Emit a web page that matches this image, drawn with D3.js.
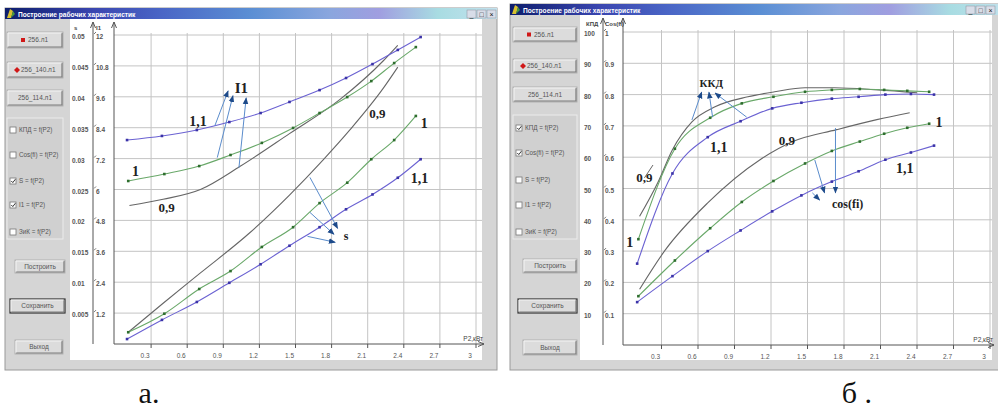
<!DOCTYPE html>
<html>
<head>
<meta charset="utf-8">
<script src="https://cdn.jsdelivr.net/npm/d3@7"></script>
<style>
  body { margin: 0; background: #fff; }
  svg { display: block; }
</style>
</head>
<body>
<svg width="998" height="410"></svg>
<script>
// ---- data ----
const p2Ticks = ['0.3', '0.6', '0.9', '1.2', '1.5', '1.8', '2.1', '2.4', '2.7', '3'];
const sTicks = ['0.005', '0.01', '0.015', '0.02', '0.025', '0.03', '0.035', '0.04', '0.045', '0.05'];
const i1Ticks = ['1.2', '2.4', '3.6', '4.8', '6', '7.2', '8.4', '9.6', '10.8', '12'];
const kpdTicks = ['10', '20', '30', '40', '50', '60', '70', '80', '90', '100'];
const cosTicks = ['0.1', '0.2', '0.3', '0.4', '0.5', '0.6', '0.7', '0.8', '0.9', '1'];

// measured points, U = 1.1 and U = 1 (markers at same P2 on every curve)
const p2_11 = [0.10, 0.39, 0.68, 0.95, 1.21, 1.45, 1.70, 1.92, 2.14, 2.35, 2.54];
const p2_10 = [0.11, 0.41, 0.70, 0.96, 1.22, 1.48, 1.70, 1.93, 2.13, 2.32, 2.50];

const s_11 = [0.0008, 0.0039, 0.0068, 0.0099, 0.0129, 0.0159, 0.0189, 0.0218, 0.0242, 0.0269, 0.0299];
const s_10 = [0.0019, 0.0049, 0.0089, 0.0118, 0.0157, 0.0189, 0.0228, 0.0261, 0.0299, 0.0330, 0.0369];
const p2_s09 = [0.11, 0.40, 0.71, 1.12, 1.45, 1.73, 1.95, 2.23, 2.35];
const s_09 = [0.0019, 0.0066, 0.0115, 0.0180, 0.0241, 0.0298, 0.0346, 0.0414, 0.0448];

const i1_11 = [7.92, 8.08, 8.31, 8.62, 8.97, 9.40, 9.86, 10.33, 10.87, 11.42, 11.92];
const i1_10 = [6.33, 6.60, 6.91, 7.34, 7.81, 8.39, 8.97, 9.59, 10.21, 10.91, 11.53];
const p2_i09 = [0.12, 0.40, 0.71, 1.04, 1.45, 1.87, 2.23, 2.35];
const i1_09 = [5.38, 5.62, 6.00, 6.90, 8.17, 9.50, 11.00, 11.60];

const kpd_11 = [26.0, 54.8, 66.4, 71.5, 75.6, 77.4, 78.7, 79.3, 80.0, 80.2, 80.0];
const kpd_10 = [33.8, 62.7, 72.6, 77.2, 79.3, 80.9, 81.5, 81.8, 81.5, 81.2, 80.9];
const p2_k09 = [0.12, 0.27, 0.39, 0.55, 0.74, 1.01, 1.23, 1.48, 1.72, 2.08, 2.40];
const kpd_09 = [41.1, 51.9, 62.4, 71.3, 76.1, 79.3, 80.9, 82.2, 82.2, 81.5, 80.6];

const cos_11 = [0.137, 0.22, 0.30, 0.366, 0.427, 0.478, 0.522, 0.555, 0.592, 0.615, 0.637];
const cos_10 = [0.156, 0.27, 0.373, 0.457, 0.524, 0.58, 0.62, 0.65, 0.675, 0.694, 0.707];
const p2_c09 = [0.12, 0.33, 0.68, 1.11, 1.38, 1.74, 2.07, 2.34];
const cos_09 = [0.178, 0.303, 0.454, 0.592, 0.65, 0.688, 0.72, 0.742];

// hand-written notes on the charts (in P2 / I1 or P2 / КПД units)
const leftNotes = [
  { t: 'I1', p: 1.05, v: 9.95, fs: 15 },
  { t: '1,1', p: 0.69, v: 8.67, fs: 14 },
  { t: '1', p: 0.17, v: 6.70, fs: 14 },
  { t: '0,9', p: 0.43, v: 5.30, fs: 13 },
  { t: '0,9', p: 2.18, v: 8.94, fs: 13 },
  { t: '1', p: 2.57, v: 8.59, fs: 14 },
  { t: '1,1', p: 2.53, v: 6.43, fs: 14 },
  { t: 's', p: 1.92, v: 4.22, fs: 12 }
];
const leftArrows = [
  [0.83, 8.48, 0.94, 9.83], [0.85, 7.24, 0.98, 9.64], [1.03, 6.85, 1.09, 9.56],
  [1.62, 6.47, 1.85, 4.49], [1.62, 5.11, 1.82, 4.26], [1.60, 4.18, 1.83, 3.95]
];
const rightNotes = [
  { t: 'ККД', p: 0.71, v: 83.7, fs: 11 },
  { t: '0,9', p: 0.16, v: 53.4, fs: 13 },
  { t: '1,1', p: 0.77, v: 63.3, fs: 14 },
  { t: '1', p: 0.04, v: 32.9, fs: 14 },
  { t: '0,9', p: 1.33, v: 65.2, fs: 13 },
  { t: '1', p: 2.58, v: 71.2, fs: 14 },
  { t: '1,1', p: 2.30, v: 56.5, fs: 14 },
  { t: 'cos(fi)', p: 1.83, v: 45.0, fs: 12 }
];
const rightArrows = [
  [0.55, 71.9, 0.63, 80.8], [0.72, 72.8, 0.69, 80.8], [1.00, 72.8, 0.74, 80.5],
  [1.56, 59.1, 1.64, 48.6], [1.73, 69.3, 1.73, 48.6], [1.54, 48.6, 1.60, 46.3]
];
const rightTicks = [[0.16, 53.4, 0.23, 57.5]];

const fileButtons = ['256.л1', '256_140.л1', '256_114.л1'];
const checkLabels = ['КПД = f(P2)', 'Cos(fi) = f(P2)', 'S = f(P2)', 'I1 = f(P2)', 'ЗиК = f(P2)'];
const commandButtons = ['Построить', 'Сохранить', 'Выход'];

const BLUE = '#6b62d2', BLUE_M = '#3b33a8';
const GREEN = '#69a869', GREEN_M = '#2e6e2e';
const GREY = '#666';
const SANS = '"Liberation Sans", Arial, sans-serif';
const SERIF = '"Liberation Serif", "Times New Roman", serif';

const svg = d3.select('svg');
const defs = svg.append('defs');

const grad = defs.append('linearGradient').attr('id', 'title');
[[0, '#0d1d6c'], [0.18, '#3a46b0'], [0.32, '#4a66c6'], [0.5, '#5b8fd4'],
 [0.66, '#8aa6de'], [0.76, '#a09ee0'], [0.88, '#a8dce2'], [1, '#c4e2ee']]
  .forEach(([o, c]) => grad.append('stop').attr('offset', o).attr('stop-color', c));

defs.append('marker')
  .attr('id', 'head')
  .attr('viewBox', '0 0 10 10')
  .attr('refX', 9).attr('refY', 5)
  .attr('markerWidth', 7).attr('markerHeight', 7)
  .attr('markerUnits', 'userSpaceOnUse')
  .attr('orient', 'auto')
  .append('path').attr('d', 'M0,1 L10,5 L0,9 Z').attr('fill', '#1d4a8a');

// ---- window chrome ----
function drawWindow(w) {
  const g = svg.append('g');
  g.append('rect')
    .attr('x', w.x0).attr('y', w.y0)
    .attr('width', w.x1 - w.x0).attr('height', w.y1 - w.y0)
    .attr('fill', '#d5d5d5').attr('stroke', '#9a9a9a').attr('stroke-width', 1);

  g.append('rect')
    .attr('x', w.x0).attr('y', w.y0)
    .attr('width', w.x1 - w.x0).attr('height', 11)
    .attr('fill', 'url(#title)');

  // icon
  g.append('path')
    .attr('d', `M${w.x0 + 2},${w.y0 + 10} L${w.x0 + 5},${w.y0 + 1} L${w.x0 + 8},${w.y0 + 3} L${w.x0 + 6},${w.y0 + 10} Z`)
    .attr('fill', '#d8c030');
  g.append('path')
    .attr('d', `M${w.x0 + 6},${w.y0 + 10} L${w.x0 + 8},${w.y0 + 3} L${w.x0 + 10},${w.y0 + 6} Z`)
    .attr('fill', '#4c9a3c');

  g.append('text')
    .attr('x', w.x0 + 13).attr('y', w.y0 + 8.5)
    .attr('font-family', SANS).attr('font-size', 6.6).attr('font-weight', 'bold')
    .attr('fill', '#fff')
    .text('Построение рабочих характеристик');

  // caption buttons
  ['_', '□', '×'].forEach((c, i) => {
    const bx = w.capX + i * 10;
    g.append('rect').attr('x', bx).attr('y', w.y0 + 2).attr('width', 9).attr('height', 8)
      .attr('fill', '#d8dde8').attr('stroke', '#8a8f9a').attr('stroke-width', 0.5);
    g.append('text').attr('x', bx + 4.5).attr('y', w.y0 + 8.5).attr('text-anchor', 'middle')
      .attr('font-family', SANS).attr('font-size', 7).attr('fill', '#111').text(c);
  });

  // white drawing area
  const [wx0, wy0, wx1, wy1] = w.white;
  g.append('rect').attr('x', wx0).attr('y', wy0).attr('width', wx1 - wx0).attr('height', wy1 - wy0)
    .attr('fill', '#fff');

  const button = (x0, y0, x1, y1, def) => {
    g.append('rect').attr('x', x0).attr('y', y0).attr('width', x1 - x0).attr('height', y1 - y0)
      .attr('fill', '#dcdcdc').attr('stroke', def ? '#333' : '#a8a8a8').attr('stroke-width', def ? 1.2 : 0.8);
    g.append('path').attr('d', `M${x0 + 1},${y1 - 1} H${x1 - 1} V${y0 + 1}`)
      .attr('fill', 'none').attr('stroke', '#7a7a7a').attr('stroke-width', 1.2);
    g.append('path').attr('d', `M${x0 + 1},${y1 - 1.5} V${y0 + 1} H${x1 - 1.5}`)
      .attr('fill', 'none').attr('stroke', '#f4f4f4').attr('stroke-width', 1);
  };

  fileButtons.forEach((t, i) => {
    const [y0, y1] = w.btnY[i];
    button(w.btnX[0], y0, w.btnX[1], y1, false);
    const cy = (y0 + y1) / 2;
    if (i === 0) {
      g.append('rect').attr('x', w.btnX[0] + 14).attr('y', cy - 2).attr('width', 4).attr('height', 4).attr('fill', '#d01818');
    } else if (i === 1) {
      g.append('path').attr('d', `M${w.btnX[0] + 10},${cy - 3} l3,3 l-3,3 l-3,-3 Z`).attr('fill', '#d01818');
    }
    g.append('text')
      .attr('x', i === 0 ? w.btnX[0] + 21 : i === 1 ? w.btnX[0] + 14 : (w.btnX[0] + w.btnX[1]) / 2)
      .attr('y', cy + 2.4)
      .attr('text-anchor', i === 2 ? 'middle' : 'start')
      .attr('font-family', SANS).attr('font-size', 6.5).attr('fill', '#555')
      .text(t);
  });

  // group box with check boxes
  const [gx0, gy0, gx1, gy1] = w.grp;
  g.append('rect').attr('x', gx0).attr('y', gy0).attr('width', gx1 - gx0).attr('height', gy1 - gy0)
    .attr('fill', '#d0d0d0').attr('stroke', '#ececec').attr('stroke-width', 1);
  checkLabels.forEach((t, i) => {
    const cy = w.chkY[i];
    g.append('rect').attr('x', gx0 + 3).attr('y', cy - 3).attr('width', 6).attr('height', 6)
      .attr('fill', '#fff').attr('stroke', '#777').attr('stroke-width', 0.8);
    if (w.checked[i]) {
      g.append('path').attr('d', `M${gx0 + 4.3},${cy} l1.5,1.6 l2.6,-3.4`)
        .attr('fill', 'none').attr('stroke', '#333').attr('stroke-width', 1);
    }
    g.append('text').attr('x', gx0 + 12).attr('y', cy + 2.3)
      .attr('font-family', SANS).attr('font-size', 6.3).attr('fill', '#555').text(t);
  });

  commandButtons.forEach((t, i) => {
    const [x0, x1, y0, y1] = w.cmd[i];
    button(x0, y0, x1, y1, i === 1);
    g.append('text').attr('x', (x0 + x1) / 2).attr('y', (y0 + y1) / 2 + 2.3)
      .attr('text-anchor', 'middle')
      .attr('font-family', SANS).attr('font-size', 6.5).attr('fill', '#555').text(t);
  });

  return g;
}

// ---- chart ----
// column "a" is the outer label column, column "b" the inner one
function drawChart(c) {
  const g = svg.append('g');
  const x = d3.scaleLinear().domain([0, 3]).range(c.xRange);
  const yA = d3.scaleLinear().domain([0, c.aMax]).range(c.yRange);
  const yB = d3.scaleLinear().domain([0, c.bMax]).range(c.yRange);
  const yN = c.noteAxis === 'a' ? yA : yB;
  const yTop = c.yRange[1];
  const yBot = c.yRange[0];

  // grid
  const gridVals = c.bLabels.map(Number);
  g.append('g').selectAll('line').data(gridVals).join('line')
    .attr('x1', c.ax2).attr('x2', c.gridRight)
    .attr('y1', d => yB(d)).attr('y2', d => yB(d))
    .attr('stroke', '#c4c4c4').attr('stroke-width', 1);
  const xVals = p2Ticks.map(Number);
  g.append('g').selectAll('line').data(xVals).join('line')
    .attr('x1', d => x(d)).attr('x2', d => x(d))
    .attr('y1', yTop - 2).attr('y2', yBot)
    .attr('stroke', '#c4c4c4').attr('stroke-width', 1);

  // axes
  const axis = g.append('g').attr('stroke', '#555').attr('stroke-width', 1).attr('fill', 'none');
  [c.ax1, c.ax2].forEach(ax => {
    axis.append('line').attr('x1', ax).attr('x2', ax).attr('y1', c.axTop).attr('y2', yBot);
    axis.append('path').attr('d', `M${ax - 2.5},${c.axTop + 6} L${ax},${c.axTop} L${ax + 2.5},${c.axTop + 6}`);
  });
  axis.append('line').attr('x1', c.ax2).attr('x2', c.gridRight + 2).attr('y1', yBot).attr('y2', yBot);
  axis.append('path').attr('d', `M${c.gridRight - 4},${yBot - 2.5} L${c.gridRight + 2},${yBot} L${c.gridRight - 4},${yBot + 2.5}`);

  // x ticks
  g.append('g').selectAll('line').data(xVals).join('line')
    .attr('x1', d => x(d)).attr('x2', d => x(d))
    .attr('y1', yBot).attr('y2', yBot + 4)
    .attr('stroke', '#555');
  g.append('g').selectAll('text').data(p2Ticks).join('text')
    .attr('x', d => x(+d) - 6).attr('y', yBot + 14)
    .attr('text-anchor', 'middle')
    .attr('font-family', SANS).attr('font-size', 6.5).attr('fill', '#555')
    .text(d => d);
  g.append('text').attr('x', c.gridRight + 1).attr('y', yBot - 3)
    .attr('text-anchor', 'end')
    .attr('font-family', SANS).attr('font-size', 6.5).attr('fill', '#444')
    .text('P2,кВт');

  // y labels, two scales side by side
  g.append('g').selectAll('text').data(c.aLabels).join('text')
    .attr('x', c.lab1X).attr('y', d => yA(+d) + 4)
    .attr('font-family', SANS).attr('font-size', 6.5).attr('font-weight', 'bold').attr('fill', '#555')
    .text(d => d);
  g.append('g').selectAll('text').data(c.bLabels).join('text')
    .attr('x', c.lab2X).attr('y', d => yB(+d) + 4)
    .attr('font-family', SANS).attr('font-size', 6.5).attr('font-weight', 'bold').attr('fill', '#555')
    .text(d => d);
  g.append('g').selectAll('line').data(gridVals).join('line')
    .attr('x1', c.ax1 + 1).attr('x2', c.ax1 + 3)
    .attr('y1', d => yB(d) - 1).attr('y2', d => yB(d) - 3)
    .attr('stroke', '#777');
  g.append('text').attr('x', c.lab1X + 2).attr('y', c.headY)
    .attr('font-family', SANS).attr('font-size', 6).attr('font-weight', 'bold').attr('fill', '#444').text(c.head1);
  g.append('text').attr('x', c.lab2X).attr('y', c.headY)
    .attr('font-family', SANS).attr('font-size', 6).attr('font-weight', 'bold').attr('fill', '#444').text(c.head2);

  // curves
  const line = (ys) => d3.line().x(d => x(d[0])).y(d => ys(d[1])).curve(d3.curveMonotoneX);
  c.series.forEach(s => {
    const ys = s.axis === 'a' ? yA : yB;
    const pts = s.p.map((p, i) => [p, s.v[i]]);
    g.append('path').attr('d', line(ys)(pts))
      .attr('fill', 'none').attr('stroke', s.color).attr('stroke-width', 1.1);
    if (s.mark) {
      g.append('g').selectAll('rect').data(pts).join('rect')
        .attr('x', d => x(d[0]) - 1.3).attr('y', d => ys(d[1]) - 1.3)
        .attr('width', 2.6).attr('height', 2.6)
        .attr('fill', s.mark);
    }
  });

  // notes and arrows
  g.append('g').selectAll('line').data(c.arrows).join('line')
    .attr('x1', d => x(d[0])).attr('y1', d => yN(d[1]))
    .attr('x2', d => x(d[2])).attr('y2', d => yN(d[3]))
    .attr('stroke', '#5a8ccc').attr('stroke-width', 1)
    .attr('marker-end', 'url(#head)');
  g.append('g').selectAll('line').data(c.plain || []).join('line')
    .attr('x1', d => x(d[0])).attr('y1', d => yN(d[1]))
    .attr('x2', d => x(d[2])).attr('y2', d => yN(d[3]))
    .attr('stroke', '#666').attr('stroke-width', 1);
  g.append('g').selectAll('text').data(c.notes).join('text')
    .attr('x', d => x(d.p)).attr('y', d => yN(d.v) + d.fs * 0.35)
    .attr('text-anchor', 'middle')
    .attr('font-family', SERIF).attr('font-weight', 'bold')
    .attr('font-size', d => d.fs).attr('fill', '#222')
    .text(d => d.t);
}

// ---- left window (а.) ----
drawWindow({
  x0: 5, y0: 8, x1: 497, y1: 370, capX: 467,
  white: [70, 19, 482, 360],
  btnX: [7, 63], btnY: [[32, 48], [62, 78], [90, 106]],
  grp: [7, 118, 63, 239], chkY: [130, 155, 181, 205, 232],
  checked: [false, false, true, true, false],
  cmd: [[15, 65, 260, 273], [10, 65, 299, 313], [15, 63, 340, 354]]
});
drawChart({
  xRange: [115, 476], yRange: [344, 35],
  ax1: 93, ax2: 114, axTop: 22, gridRight: 482,
  lab1X: 72, lab2X: 96, headY: 30, head1: 's', head2: 'I1',
  aMax: 0.05, bMax: 12, aLabels: sTicks, bLabels: i1Ticks, noteAxis: 'b',
  series: [
    { p: p2_i09, v: i1_09, axis: 'b', color: GREY },
    { p: p2_10, v: i1_10, axis: 'b', color: GREEN, mark: GREEN_M },
    { p: p2_11, v: i1_11, axis: 'b', color: BLUE, mark: BLUE_M },
    { p: p2_s09, v: s_09, axis: 'a', color: GREY },
    { p: p2_10, v: s_10, axis: 'a', color: GREEN, mark: GREEN_M },
    { p: p2_11, v: s_11, axis: 'a', color: BLUE, mark: BLUE_M }
  ],
  notes: leftNotes, arrows: leftArrows
});

// ---- right window (б.) ----
drawWindow({
  x0: 510, y0: 4, x1: 1010, y1: 370, capX: 966,
  white: [580, 15, 992, 360],
  btnX: [513, 577], btnY: [[27, 42], [59, 73], [87, 102]],
  grp: [513, 115, 577, 239], chkY: [128, 153, 180, 205, 232],
  checked: [true, true, false, false, false],
  cmd: [[523, 577, 259, 273], [518, 577, 299, 313], [523, 577, 340, 355]]
});
drawChart({
  xRange: [625, 990], yRange: [345, 32],
  ax1: 603, ax2: 623, axTop: 18, gridRight: 992,
  lab1X: 584, lab2X: 605, headY: 26, head1: 'КПД', head2: 'Cos(fi)',
  aMax: 100, bMax: 1, aLabels: kpdTicks, bLabels: cosTicks, noteAxis: 'a',
  series: [
    { p: p2_k09, v: kpd_09, axis: 'a', color: GREY },
    { p: p2_10, v: kpd_10, axis: 'a', color: GREEN, mark: GREEN_M },
    { p: p2_11, v: kpd_11, axis: 'a', color: BLUE, mark: BLUE_M },
    { p: p2_c09, v: cos_09, axis: 'b', color: GREY },
    { p: p2_10, v: cos_10, axis: 'b', color: GREEN, mark: GREEN_M },
    { p: p2_11, v: cos_11, axis: 'b', color: BLUE, mark: BLUE_M }
  ],
  notes: rightNotes, arrows: rightArrows, plain: rightTicks
});

// captions under the screenshots
svg.append('text').attr('x', 149).attr('y', 403).attr('text-anchor', 'middle')
  .attr('font-family', SERIF).attr('font-size', 30).attr('fill', '#111').text('а.');
svg.append('text').attr('x', 857).attr('y', 403).attr('text-anchor', 'middle')
  .attr('font-family', SERIF).attr('font-size', 30).attr('fill', '#111').text('б .');
</script>
</body>
</html>
